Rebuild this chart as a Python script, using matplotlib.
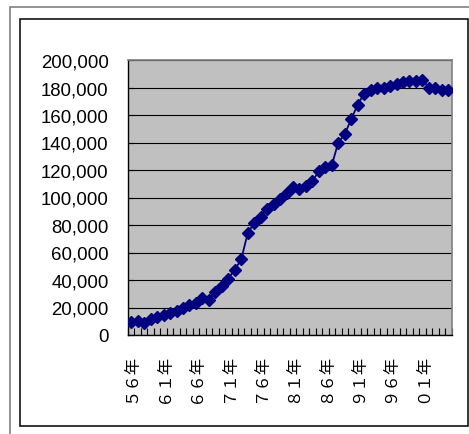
import matplotlib
matplotlib.use("Agg")
import matplotlib.pyplot as plt
from matplotlib.patches import Rectangle
from matplotlib.ticker import FuncFormatter
import numpy as np

# Annual figures, 1956-2005
years = list(range(1956, 2006))
values = [
    9800, 10000, 9000, 11300, 12800, 14500, 16000, 17600, 19400, 21600,
    23500, 27000, 25800, 31500, 36000, 41000, 47500, 55000, 74000, 81500,
    85500, 92000, 95000, 99000, 103500, 108000, 106000, 108500, 112000, 119000,
    122000, 123500, 140000, 146000, 157000, 167500, 175500, 178500, 180000, 179500,
    181000, 182500, 184000, 185000, 184500, 185500, 180000, 179500, 178500, 178500,
]
label_step = 5
y_max = 200000
y_step = 20000

FULLWIDTH = str.maketrans("0123456789", "０１２３４５６７８９")
categories = [f"{y % 100:02d}".translate(FULLWIDTH) + "年" for y in years]

W, H, DPI = 469, 435, 100
fig = plt.figure(figsize=(W / DPI, H / DPI), dpi=DPI)
fig.patch.set_facecolor("white")

def px_rect(x0, y0, x1, y1, **kw):
    """Rectangle given in pixel coordinates measured from the top-left."""
    return Rectangle((x0 / W, 1 - y1 / H), (x1 - x0) / W, (y1 - y0) / H,
                     transform=fig.transFigure, fill=False, **kw)

# Chart frames
fig.patches.append(px_rect(10, 8, 520, 480, edgecolor="#808080", linewidth=1.2))
fig.patches.append(px_rect(19.5, 20, 468, 427, edgecolor="black", linewidth=1.1))

ax = fig.add_axes([128 / W, 1 - 336 / H, (451.5 - 128) / W, (336 - 61) / H])
ax.set_facecolor("#C0C0C0")

x = np.arange(len(values))
ax.plot(x, values, color="#000080", linewidth=1.3, marker="D", markersize=6.6,
        markerfacecolor="#000080", markeredgecolor="#000080", zorder=3)

ax.set_xlim(-0.5, len(values) - 0.5)
ax.set_ylim(0, y_max)

# y axis
ax.set_yticks(np.arange(0, y_max + 1, y_step))
ax.yaxis.set_major_formatter(FuncFormatter(lambda v, _: f"{v:,.0f}"))
ax.yaxis.grid(True, color="black", linewidth=0.8)
ax.set_axisbelow(True)
ax.tick_params(axis="y", direction="in", length=4, width=0.8, pad=14,
               labelsize=13.4, colors="black")
for lab in ax.get_yticklabels():
    lab.set_fontfamily(["Liberation Sans", "DejaVu Sans"])

# x axis: ticks on category boundaries, labels every fifth year
ax.set_xticks(np.arange(-0.5, len(values), 1))
ax.set_xticklabels([])
ax.tick_params(axis="x", which="major", direction="in", length=5, width=0.8,
               colors="black")
label_pos = x[::label_step]
ax.set_xticks(label_pos, minor=True)
ax.set_xticklabels([categories[i] for i in label_pos], minor=True, rotation=90,
                   fontsize=11.8, family=["Noto Sans CJK JP", "DejaVu Sans"])
ax.tick_params(axis="x", which="minor", length=0, pad=13)
for lab in ax.get_xticklabels(minor=True):
    lab.set_verticalalignment("top")
    lab.set_horizontalalignment("center")

for side in ("left", "bottom"):
    ax.spines[side].set_color("black")
    ax.spines[side].set_linewidth(1.0)
for side in ("top", "right"):
    ax.spines[side].set_color("#808080")
    ax.spines[side].set_linewidth(1.2)

fig.savefig("out.png", dpi=DPI)
